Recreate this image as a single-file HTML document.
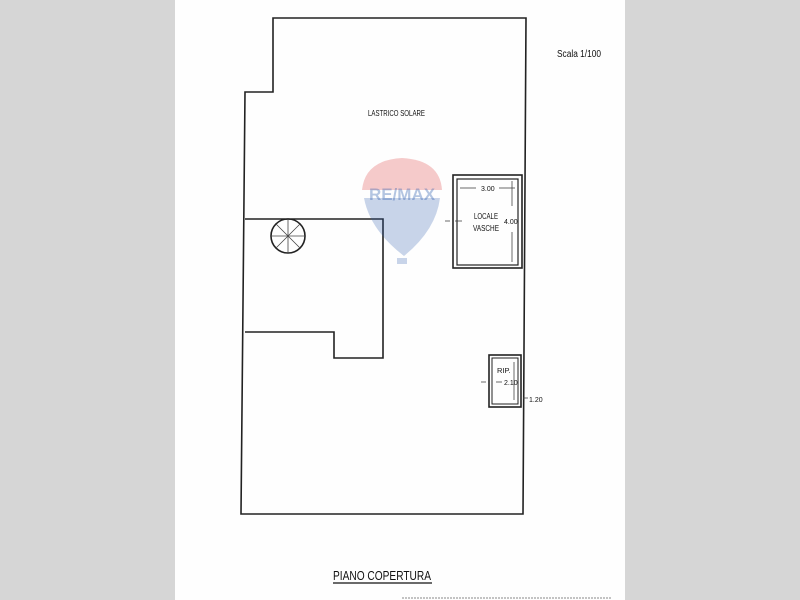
<!DOCTYPE html>
<html><head><style>
body{margin:0;width:800px;height:600px;background:#d6d6d6;overflow:hidden}
</style></head><body>
<svg width="800" height="600" xmlns="http://www.w3.org/2000/svg" style="position:absolute;left:0;top:0">
<rect x="0" y="0" width="800" height="600" fill="#d6d6d6"/>
<rect x="175" y="0" width="450" height="600" fill="#fefefe"/>
<g fill="none" stroke="#222" stroke-width="1.6">
<path d="M273 18 L526 18 L523 514 L241 514 L245 92 L273 92 Z"/>
<path d="M245 219 L383 219 L383 358 L334 358 L334 332 L245 332"/>
<circle cx="288" cy="236" r="17"/>
<rect x="453" y="175" width="69" height="93"/>
<rect x="457" y="179" width="61" height="86" stroke-width="1.2"/>
<rect x="489" y="355" width="32" height="52"/>
<rect x="492" y="358" width="26" height="46" stroke-width="1"/>
</g>
<g stroke="#444" stroke-width="0.8">
<line x1="288" y1="219" x2="288" y2="253"/><line x1="271" y1="236" x2="305" y2="236"/>
<line x1="276" y1="224" x2="300" y2="248"/><line x1="300" y1="224" x2="276" y2="248"/>
<line x1="460" y1="188" x2="476" y2="188"/><line x1="499" y1="188" x2="515" y2="188"/>
<line x1="512" y1="181" x2="512" y2="206"/><line x1="512" y1="232" x2="512" y2="262"/>
<line x1="445" y1="221" x2="450" y2="221"/><line x1="455" y1="221" x2="462" y2="221"/>
<line x1="514" y1="362" x2="514" y2="400"/>
<line x1="481" y1="382" x2="486" y2="382"/><line x1="496" y1="382" x2="502" y2="382"/>
<line x1="523" y1="398" x2="528" y2="398"/>
</g>
<g opacity="0.25">
<path d="M362 190 Q365 160 402 158 Q440 160 442 190 Z" fill="#d33"/>
<path d="M364 198 L440 198 Q436 230 404 256 Q370 230 364 198 Z" fill="#2a5cae"/>
<rect x="397" y="258" width="10" height="6" fill="#2a5cae"/>
</g>
<text x="402" y="200" font-family="Liberation Sans, sans-serif" font-weight="bold" font-size="17" fill="#2a5cae" opacity="0.35" text-anchor="middle">RE/MAX</text>
<g font-family="Liberation Sans, sans-serif" fill="#111" font-size="8">
<text x="368" y="116" font-size="8.5" textLength="57" lengthAdjust="spacingAndGlyphs">LASTRICO SOLARE</text>
<text x="557" y="57" font-size="10" textLength="44" lengthAdjust="spacingAndGlyphs">Scala 1/100</text>
<text x="481" y="191" font-size="7">3.00</text>
<text x="474" y="219" textLength="24" lengthAdjust="spacingAndGlyphs">LOCALE</text>
<text x="473" y="231" textLength="26" lengthAdjust="spacingAndGlyphs">VASCHE</text>
<text x="504" y="224" font-size="7">4.00</text>
<text x="497" y="373" font-size="7.5">RIP.</text>
<text x="504" y="385" font-size="7">2.10</text>
<text x="529" y="402" font-size="7">1.20</text>
<text x="333" y="580" font-size="13" textLength="98" lengthAdjust="spacingAndGlyphs">PIANO COPERTURA</text>
</g>
<line x1="333" y1="583" x2="432" y2="583" stroke="#111" stroke-width="1.2"/>
<line x1="402" y1="598" x2="612" y2="598" stroke="#888" stroke-width="1" stroke-dasharray="2 1"/>
</svg>
</body></html>
